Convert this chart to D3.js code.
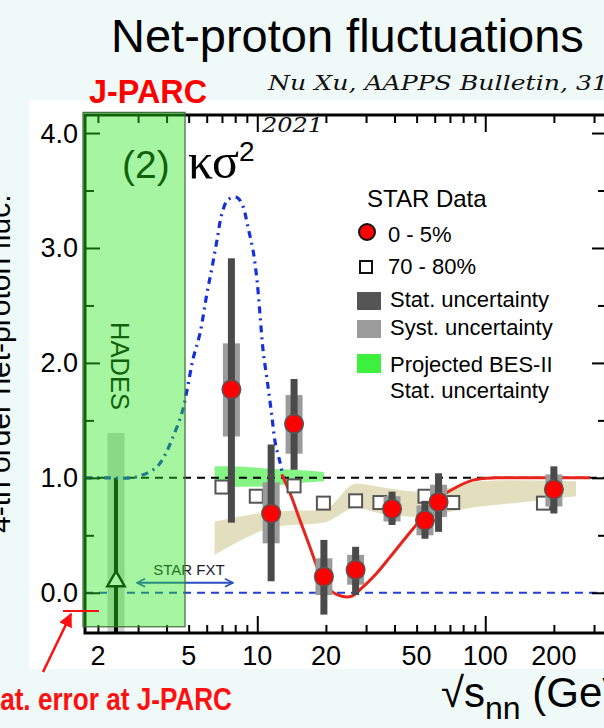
<!DOCTYPE html>
<meta charset="utf-8">
<style>
body { margin: 0; background: #eff9f7; }
text { font-family: "Liberation Sans", Arial, Helvetica, sans-serif; }
</style>
<svg width="604" height="728"></svg>
<script src="https://d3js.org/d3.v7.min.js"></script>
<script>

// STAR 0-5% central net-proton kappa*sigma^2
var energy05 = [7.7, 11.5, 14.5, 19.6, 27, 39, 54.4, 62.4, 200];
var kappa05  = [1.77, 0.69, 1.47, 0.14, 0.20, 0.73, 0.63, 0.79, 0.90];
var statLo   = [0.61, 0.10, 1.07, -0.19, -0.02, 0.59, 0.47, 0.53, 0.69];
var statHi   = [2.91, 1.29, 1.86, 0.46, 0.40, 0.88, 0.80, 1.04, 1.10];
var systLo   = [1.36, 0.43, 1.21, -0.02, 0.07, 0.62, 0.50, 0.66, 0.75];
var systHi   = [2.17, 0.96, 1.72, 0.30, 0.33, 0.84, 0.76, 0.94, 1.03];

// STAR 70-80% peripheral
var energy7080 = [7.0, 9.9, 14.5, 19.5, 27, 34.5, 54.4, 72, 180];
var kappa7080  = [0.92, 0.84, 0.93, 0.78, 0.80, 0.785, 0.84, 0.785, 0.78];

// HADES point
var hadesE = 2.4, hadesK = 0.11, hadesStat = [-0.4, 1.0], hadesSyst = [-0.4, 1.39];

// model curves
var blueE = [1.755, 2.2, 2.77, 3.15, 3.63, 3.94, 4.27, 4.67, 4.92, 5.22, 5.61, 6.02, 6.33, 6.66, 7.0, 7.44, 8.15, 8.66, 9.1, 9.58, 9.97, 10.3, 10.6, 11.1, 11.6, 12.0, 12.6, 12.96];
var blueK = [1.0, 1.0, 1.0, 1.026, 1.096, 1.2, 1.357, 1.565, 1.765, 2.03, 2.26, 2.61, 2.83, 3.07, 3.3, 3.42, 3.44, 3.36, 3.18, 2.98, 2.72, 2.4, 2.11, 1.82, 1.53, 1.30, 1.13, 1.01];
var redE = [12.8, 13.9, 15.4, 17.0, 18.8, 20.8, 23.5, 25.9, 28.7, 33.4, 38.2, 45.2, 53.3, 63.3, 75, 88.3, 112, 157, 288];
var redK = [1.03, 0.87, 0.63, 0.40, 0.17, 0.026, -0.03, -0.03, 0.04, 0.17, 0.31, 0.49, 0.66, 0.83, 0.92, 0.98, 1.0, 1.0, 1.0];

// peripheral band (tan)
var tanE  = [6.5, 12.6, 19.5, 27.3, 34.5, 51.7, 72.3, 94.8, 132.7, 250];
var tanHi = [0.62, 0.71, 0.72, 0.95, 0.92, 0.88, 0.92, 0.97, 0.98, 0.97];
var tanLo = [0.33, 0.58, 0.61, 0.74, 0.69, 0.66, 0.71, 0.75, 0.78, 0.84];

// projected BES-II stat. uncertainty (green)
var besE  = [6.5, 7.7, 11.5, 14.5, 19.6];
var besHi = [1.10, 1.10, 1.08, 1.07, 1.05];
var besLo = [0.92, 0.92, 0.93, 0.95, 0.97];

var xMinor = [2, 3, 4, 5, 6, 7, 8, 9, 20, 30, 40, 50, 60, 70, 80, 90, 200, 300];
var xMajor = [10, 100];
var xLabels = [2, 5, 10, 20, 50, 100, 200];
var yMajor = [0, 1, 2, 3, 4];
var yMinor = [0.5, 1.5, 2.5, 3.5];

var svg = d3.select("svg");
var W = 604, H = 728;

var x = d3.scaleLog().domain([1.755, 342]).range([85, 607]);
var y = d3.scaleLinear().domain([-0.35, 4.157]).range([633, 115]);

svg.append("rect").attr("width", W).attr("height", H).attr("fill", "#eff9f7");
svg.append("rect").attr("x", 29).attr("y", 100).attr("width", W - 29).attr("height", 569).attr("fill", "#fff");

// title texts
svg.append("text").attr("x", 111).attr("y", 52).attr("font-size", 47).attr("fill", "#000")
    .text("Net-proton fluctuations");
svg.append("text").attr("x", 89).attr("y", 103).attr("font-size", 34).attr("font-weight", "bold")
    .attr("fill", "#ff0000").attr("textLength", 118).attr("lengthAdjust", "spacingAndGlyphs").text("J-PARC");

var defs = svg.append("defs");
defs.append("clipPath").attr("id", "plotclip").append("rect")
    .attr("x", 85).attr("y", 115).attr("width", 522).attr("height", 518);

var plot = svg.append("g").attr("clip-path", "url(#plotclip)");

// bands
var area = d3.area().curve(d3.curveMonotoneX);
plot.append("path")
    .attr("d", area.x(function(d, i) { return x(tanE[i]); })
      .y0(function(d, i) { return y(tanLo[i]); })
      .y1(function(d, i) { return y(tanHi[i]); })(tanE))
    .attr("fill", "#e3dfbe");
plot.append("path")
    .attr("d", area.x(function(d, i) { return x(besE[i]); })
      .y0(function(d, i) { return y(besLo[i]); })
      .y1(function(d, i) { return y(besHi[i]); })(besE))
    .attr("fill", "#44ee44").attr("opacity", 0.65);

// reference lines
plot.append("line").attr("x1", 85).attr("x2", 607).attr("y1", y(1)).attr("y2", y(1))
    .attr("stroke", "#000").attr("stroke-width", 2).attr("stroke-dasharray", "8,6");
plot.append("line").attr("x1", 85).attr("x2", 607).attr("y1", y(0)).attr("y2", y(0))
    .attr("stroke", "#1f3fd6").attr("stroke-width", 2).attr("stroke-dasharray", "8,6");

// HADES
plot.append("rect").attr("x", x(hadesE) - 8.5).attr("width", 17)
    .attr("y", y(hadesSyst[1])).attr("height", y(hadesSyst[0]) - y(hadesSyst[1]))
    .attr("fill", "#cfcfcf");
plot.append("line").attr("x1", x(hadesE)).attr("x2", x(hadesE))
    .attr("y1", y(hadesStat[1])).attr("y2", y(hadesStat[0]))
    .attr("stroke", "#000").attr("stroke-width", 4);
plot.append("path")
    .attr("d", d3.symbol().type(d3.symbolTriangle).size(130)())
    .attr("transform", "translate(" + x(hadesE) + "," + (y(hadesK) + 1) + ")")
    .attr("fill", "#fff").attr("stroke", "#000").attr("stroke-width", 2.5);

// blue model curve
var line = d3.line().curve(d3.curveCatmullRom);
plot.append("path")
    .attr("d", line.x(function(d, i) { return x(blueE[i]); }).y(function(d, i) { return y(blueK[i]); })(blueE))
    .attr("fill", "none").attr("stroke", "#1530d8").attr("stroke-width", 3.2)
    .attr("stroke-dasharray", "7,5,2,5");

// red curve
plot.append("path")
    .attr("d", line.x(function(d, i) { return x(redE[i]); }).y(function(d, i) { return y(redK[i]); })(redE))
    .attr("fill", "none").attr("stroke", "#e8231a").attr("stroke-width", 3);

// peripheral squares
plot.selectAll(".sq").data(energy7080).enter().append("rect")
    .attr("x", function(d) { return x(d) - 6.5; })
    .attr("y", function(d, i) { return y(kappa7080[i]) - 6.5; })
    .attr("width", 13).attr("height", 13)
    .attr("fill", "#fff").attr("stroke", "#555").attr("stroke-width", 2);

// central points: syst, stat, marker
plot.selectAll(".syst").data(energy05).enter().append("rect")
    .attr("x", function(d) { return x(d) - 8.5; }).attr("width", 17)
    .attr("y", function(d, i) { return y(systHi[i]); })
    .attr("height", function(d, i) { return y(systLo[i]) - y(systHi[i]); })
    .attr("fill", "#9b9b9b");
plot.selectAll(".stat").data(energy05).enter().append("rect")
    .attr("x", function(d) { return x(d) - 3.5; }).attr("width", 7)
    .attr("y", function(d, i) { return y(statHi[i]); })
    .attr("height", function(d, i) { return y(statLo[i]) - y(statHi[i]); })
    .attr("fill", "#4a4a4a");
plot.selectAll(".pt").data(energy05).enter().append("circle")
    .attr("cx", function(d) { return x(d); })
    .attr("cy", function(d, i) { return y(kappa05[i]); })
    .attr("r", 9.3).attr("fill", "#ff0000").attr("stroke", "#555").attr("stroke-width", 1.5);

// STAR FXT arrow
var fxt = [2.97, 7.82], fxtY = 0.087;
defs.append("marker").attr("id", "chev").attr("viewBox", "0 0 10 10").attr("refX", 9).attr("refY", 5)
    .attr("markerWidth", 10).attr("markerHeight", 10).attr("markerUnits", "userSpaceOnUse")
    .attr("orient", "auto-start-reverse")
    .append("path").attr("d", "M1,1L9,5L1,9").attr("fill", "none").attr("stroke", "#2a4fc2").attr("stroke-width", 1.6);
svg.append("line").attr("x1", x(fxt[0])).attr("x2", x(fxt[1])).attr("y1", y(fxtY)).attr("y2", y(fxtY))
    .attr("stroke", "#2a4fc2").attr("stroke-width", 2)
    .attr("marker-start", "url(#chev)").attr("marker-end", "url(#chev)");
svg.append("text").attr("x", (x(fxt[0]) + x(fxt[1])) / 2 + 4).attr("y", y(fxtY) - 8)
    .attr("text-anchor", "middle").attr("font-size", 15).attr("fill", "#1a1a2a").text("STAR FXT");

// labels inside plot
svg.append("text").attr("x", 122).attr("y", 178).attr("font-size", 39).attr("fill", "#000").text("(2)");
var ks = svg.append("text").attr("x", 188).attr("y", 178).attr("fill", "#000");
ks.append("tspan").style("font-family", "'Liberation Serif', 'DejaVu Serif', serif").attr("font-size", 50).text("κσ");
ks.append("tspan").attr("font-size", 28).attr("dy", -17).text("2");
svg.append("text").attr("transform", "translate(111,322) rotate(90)")
    .attr("font-size", 26).attr("fill", "#000").attr("textLength", 88).attr("lengthAdjust", "spacingAndGlyphs").text("HADES");

// axes
function ax(gen, tr, vals, size) {
  var g = svg.append("g").attr("transform", tr)
      .call(gen.tickValues(vals).tickSize(size).tickFormat(""));
  g.select(".domain").remove();
  g.selectAll("line").attr("stroke", "#000").attr("stroke-width", 2);
}
ax(d3.axisBottom(x), "translate(0,633)", xMinor, -8);
ax(d3.axisBottom(x), "translate(0,633)", xMajor, -17);
ax(d3.axisTop(x), "translate(0,115)", xMinor, -8);
ax(d3.axisTop(x), "translate(0,115)", xMajor, -17);
ax(d3.axisLeft(y), "translate(85,0)", yMinor, -9);
ax(d3.axisLeft(y), "translate(85,0)", yMajor, -15);
ax(d3.axisRight(y), "translate(607,0)", yMinor, -9);
ax(d3.axisRight(y), "translate(607,0)", yMajor, -15);

svg.append("rect").attr("x", 85).attr("y", 115).attr("width", 522).attr("height", 518)
    .attr("fill", "none").attr("stroke", "#000").attr("stroke-width", 3);

svg.selectAll(".xl").data(xLabels).enter().append("text")
    .attr("x", function(d) { return x(d); }).attr("y", 665)
    .attr("text-anchor", "middle").attr("font-size", 27).text(function(d) { return d; });
svg.selectAll(".yl").data(yMajor).enter().append("text")
    .attr("x", 78).attr("y", function(d) { return y(d) + 9.5; })
    .attr("text-anchor", "end").attr("font-size", 27).text(function(d) { return d.toFixed(1); });

// J-PARC overlay
var jparcE = [1.72, 4.82], jparcK = [-0.296, 4.18];
svg.append("rect").attr("x", x(jparcE[0])).attr("width", x(jparcE[1]) - x(jparcE[0]))
    .attr("y", y(jparcK[1])).attr("height", y(jparcK[0]) - y(jparcK[1]))
    .attr("fill", "rgb(40,230,30)").attr("fill-opacity", 0.42)
    .attr("stroke", "#3b6b3b").attr("stroke-width", 1.2);

// citation
var serif = "'Palatino Linotype', 'DejaVu Serif', 'Liberation Serif', serif";
svg.append("text").attr("x", 268).attr("y", 90).style("font-family", serif)
    .style("font-style", "italic").attr("font-size", 20).attr("fill", "#111")
    .attr("textLength", 340).attr("lengthAdjust", "spacingAndGlyphs").text("Nu Xu, AAPPS Bulletin, 31");
svg.append("text").attr("x", 262).attr("y", 132).style("font-family", serif)
    .style("font-style", "italic").attr("font-size", 20).attr("fill", "#111")
    .attr("textLength", 61).attr("lengthAdjust", "spacingAndGlyphs").text("2021");

// legend
var lg = svg.append("g");
lg.append("text").attr("x", 367).attr("y", 207).attr("font-size", 24).text("STAR Data");
lg.append("circle").attr("cx", 367).attr("cy", 232).attr("r", 8).attr("fill", "#ff0000").attr("stroke", "#111").attr("stroke-width", 2);
lg.append("text").attr("x", 388).attr("y", 242).attr("font-size", 22).text("0 - 5%");
lg.append("rect").attr("x", 360).attr("y", 261).attr("width", 12).attr("height", 12).attr("fill", "#fff").attr("stroke", "#111").attr("stroke-width", 2);
lg.append("text").attr("x", 388).attr("y", 274).attr("font-size", 22).text("70 - 80%");
lg.append("rect").attr("x", 357).attr("y", 292).attr("width", 24).attr("height", 18).attr("fill", "#555");
lg.append("text").attr("x", 390).attr("y", 307).attr("font-size", 22).text("Stat. uncertainty");
lg.append("rect").attr("x", 357).attr("y", 320).attr("width", 24).attr("height", 18).attr("fill", "#9b9b9b");
lg.append("text").attr("x", 390).attr("y", 335).attr("font-size", 22).text("Syst. uncertainty");
lg.append("rect").attr("x", 357).attr("y", 354).attr("width", 24).attr("height", 19).attr("fill", "#3ef03e");
lg.append("text").attr("x", 390).attr("y", 372).attr("font-size", 22).text("Projected BES-II");
lg.append("text").attr("x", 390).attr("y", 398).attr("font-size", 22).text("Stat. uncertainty");

// y title
svg.append("text").attr("transform", "translate(10,533) rotate(-90)")
    .attr("font-size", 30).attr("fill", "#000").text("4-th order net-proton fluc.");

// x title
var xt = svg.append("text").attr("x", 441).attr("y", 707).attr("font-size", 42).attr("fill", "#000");
xt.append("tspan").text("√s");
xt.append("tspan").attr("font-size", 32).attr("dy", 12).text("nn");
xt.append("tspan").attr("dy", -12).text(" (GeV)");

// J-PARC stat. error annotation
svg.append("line").attr("x1", 63).attr("x2", 99).attr("y1", 611).attr("y2", 611)
    .attr("stroke", "#ff1010").attr("stroke-width", 2);
defs.append("marker").attr("id", "redhead").attr("viewBox", "0 0 10 10").attr("refX", 9).attr("refY", 5)
    .attr("markerWidth", 14).attr("markerHeight", 14).attr("markerUnits", "userSpaceOnUse")
    .attr("orient", "auto")
    .append("path").attr("d", "M0,0L10,5L0,10Z").attr("fill", "#ff1010");
svg.append("line").attr("x1", 43).attr("y1", 672).attr("x2", 71).attr("y2", 614)
    .attr("stroke", "#ff1010").attr("stroke-width", 2.5).attr("marker-end", "url(#redhead)");
svg.append("text").attr("x", 232).attr("y", 710).attr("text-anchor", "end")
    .attr("font-size", 31).attr("font-weight", "bold").attr("fill", "#ff1010")
    .attr("textLength", 258).attr("lengthAdjust", "spacingAndGlyphs").text("Stat. error at J-PARC");

</script>
